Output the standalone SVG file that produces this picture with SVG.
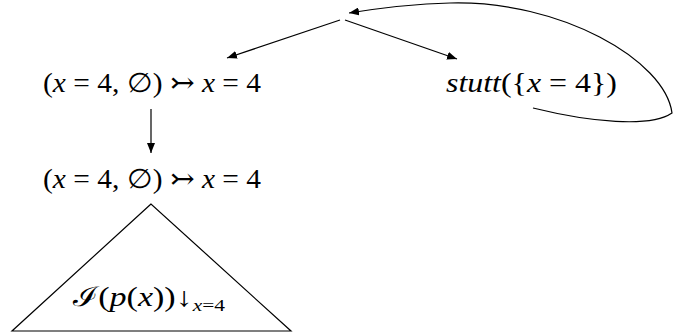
<svg xmlns="http://www.w3.org/2000/svg" width="675" height="336" viewBox="0 0 675 336">
<defs>
<marker id="ah" viewBox="0 0 10 8" refX="10" refY="4" markerWidth="10" markerHeight="8" markerUnits="userSpaceOnUse" orient="auto">
<path d="M0,0 L10,4 L0,8 Z" fill="#000"/>
</marker>
</defs>
<style>
text{font-family:"Liberation Serif","DejaVu Serif",serif;font-size:27px;fill:#000}
.i{font-style:italic}
.s{font-size:17px}
.e{stroke:#000;stroke-width:1.2;fill:none}
</style>
<rect width="675" height="336" fill="#fff"/>
<g id="connectors">
<line class="e" x1="340" y1="20" x2="227" y2="58" marker-end="url(#ah)"/>
<line class="e" x1="345" y1="20" x2="457" y2="59" marker-end="url(#ah)"/>
<line class="e" x1="151" y1="109" x2="151" y2="153" marker-end="url(#ah)"/>
<path class="e" d="M533,108 C590,122 650,128 672,113 C665,60 560,0 450,3 C410,4 380,8 349,13" marker-end="url(#ah)"/>
</g>
<g id="n1">
<text x="43" y="92" textLength="218" lengthAdjust="spacingAndGlyphs">(<tspan class="i">x</tspan> = 4, ∅) ↣ <tspan class="i">x</tspan> = 4</text>
</g>
<g id="n2">
<text x="446" y="92" textLength="171" lengthAdjust="spacingAndGlyphs"><tspan class="i">stutt</tspan>({<tspan class="i">x</tspan> = 4})</text>
</g>
<g id="n3">
<text x="43" y="188" textLength="218" lengthAdjust="spacingAndGlyphs">(<tspan class="i">x</tspan> = 4, ∅) ↣ <tspan class="i">x</tspan> = 4</text>
</g>
<g id="n4">
<path class="e" d="M151,204 L12,331 L291,331 Z"/>
<text x="73" y="306" textLength="152" lengthAdjust="spacingAndGlyphs">ℐ(<tspan class="i">p</tspan>(<tspan class="i">x</tspan>))↓<tspan class="s" dy="5"><tspan class="i">x</tspan>=4</tspan></text>
</g>
</svg>
